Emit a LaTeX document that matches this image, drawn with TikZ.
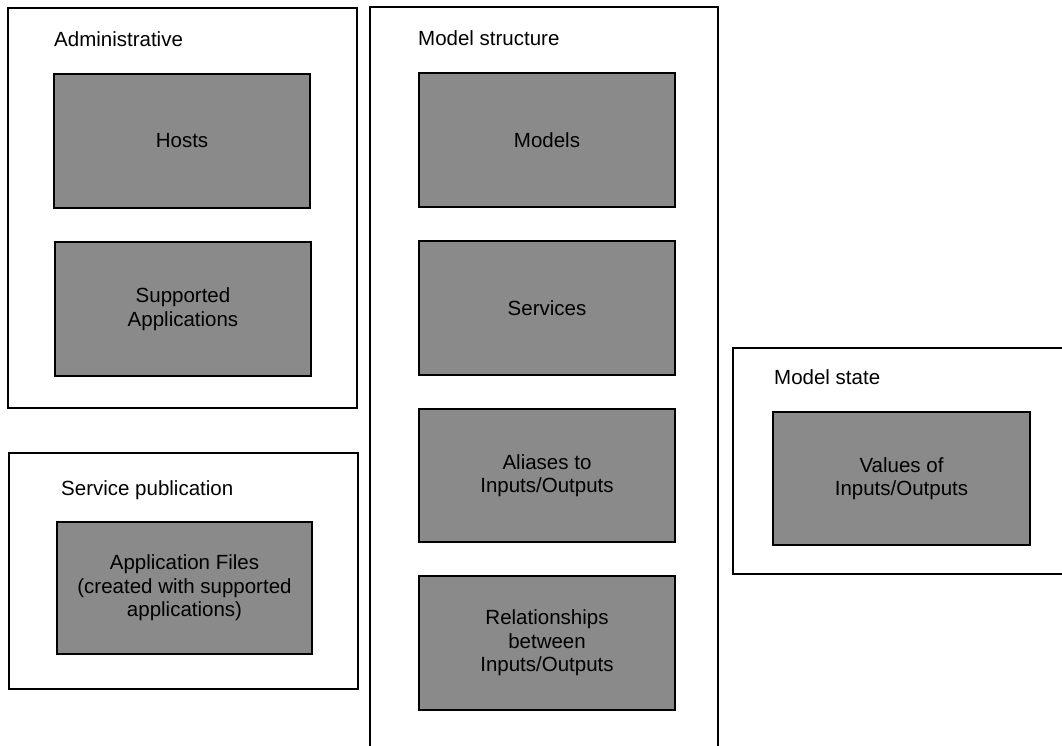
\documentclass[tikz,border=0pt]{standalone}
\usepackage{fontspec}
\setmainfont{Liberation Sans}
\definecolor{boxgray}{RGB}{138,138,138}
\tikzset{
  grp/.style={draw=black, line width=1.8pt, fill=white, inner sep=0pt, outer sep=0pt},
  item/.style={draw=black, line width=1.8pt, fill=boxgray, inner sep=0pt, outer sep=0pt,
    align=center, text=black, font=\fontsize{20.5}{23.5}\selectfont},
  grptitle/.style={anchor=base west, inner sep=0pt, font=\fontsize{20.5}{23.5}\selectfont}
}
\begin{document}
\begin{tikzpicture}[x=1pt, y=-1pt]
\clip (0,0) rectangle (1062,746);
\fill[white] (0,0) rectangle (1062,746);
% group frames
\node[grp, minimum width=349pt, minimum height=400pt] (admin) at (182.5,208) {};
\node[grp, minimum width=349pt, minimum height=236pt] (pub) at (183.5,571) {};
\node[grp, minimum width=348pt, minimum height=753pt] (struct) at (544,383.5) {};
\node[grp, minimum width=342pt, minimum height=226pt] (state) at (904,461) {};
% titles
\node[grptitle] (tadmin) at (54,47) {Administrative};
\node[grptitle] (tstruct) at (418,46) {Model structure};
\node[grptitle] (tpub) at (61,495) {Service publication};
\node[grptitle] (tstate) at (774,384) {Model state};
% items
\node[item, minimum width=256pt, minimum height=134pt] (hosts) at (182,141) {Hosts};
\node[item, minimum width=256pt, minimum height=134pt] (apps) at (183,309) {Supported\\Applications};
\node[item, minimum width=255pt, minimum height=132pt] (files) at (184.5,588) {Application Files\\(created with supported\\applications)};
\node[item, minimum width=256pt, minimum height=134pt] (models) at (547,140) {Models};
\node[item, minimum width=256pt, minimum height=134pt] (services) at (547,308) {Services};
\node[item, minimum width=256pt, minimum height=133pt] (aliases) at (547,475.5) {Aliases to\\Inputs/Outputs};
\node[item, minimum width=256pt, minimum height=134pt] (rel) at (547,643) {Relationships\\between\\Inputs/Outputs};
\node[item, minimum width=257pt, minimum height=133pt] (values) at (901.5,478.5) {Values of\\Inputs/Outputs};
\end{tikzpicture}
\end{document}
